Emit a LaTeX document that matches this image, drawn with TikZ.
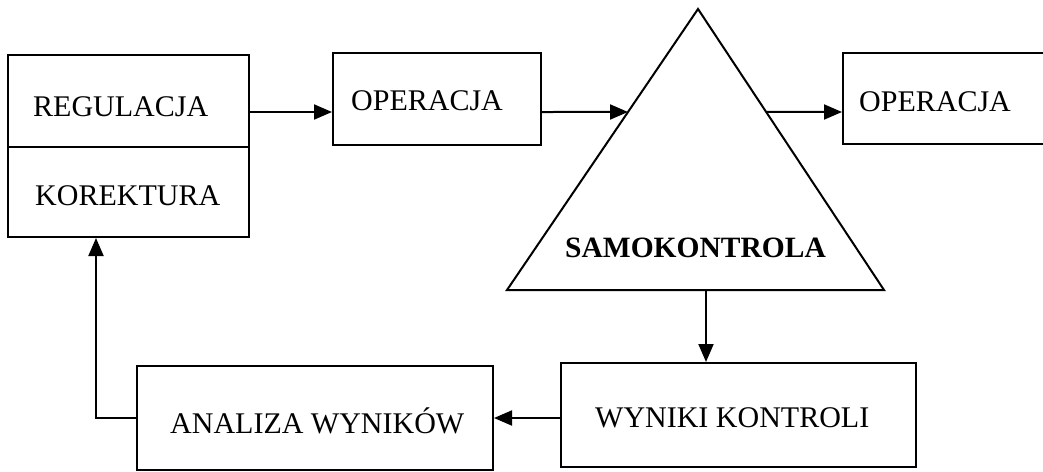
\documentclass[tikz,border=0pt]{standalone}
\usepackage{fontspec}
\setmainfont{Liberation Serif}
\usetikzlibrary{arrows.meta,calc}
\begin{document}
\begin{tikzpicture}[x=1pt,y=-1pt,
  frame/.style={draw, line width=2pt, inner sep=0pt, rectangle},
  lbl/.style={anchor=base west, inner sep=0pt, font=\fontsize{30}{35}\selectfont},
  link/.style={line width=2pt, -{Triangle[length=18pt,width=15pt]}},
  ]
\useasboundingbox (0,0) rectangle (1043,471);

% boxes
\node[frame, minimum width=241pt, minimum height=92pt] (reg) at (128.5,101) {};
\node[frame, minimum width=241pt, minimum height=90pt] (kor) at (128.5,192) {};
\node[frame, minimum width=208pt, minimum height=92pt] (op1) at (437,99) {};
\node[frame, minimum width=204pt, minimum height=91pt] (op2) at (945,98.5) {};
\node[frame, minimum width=355pt, minimum height=104pt] (wyn) at (738.5,415) {};
\node[frame, minimum width=356pt, minimum height=104pt] (ana) at (315,418) {};

% triangle
\coordinate (tA) at (698,9);
\coordinate (tL) at (507,290);
\coordinate (tR) at (884,290);
\draw[line width=2pt, line join=miter] (tA) -- (tL) -- (tR) -- cycle;
\coordinate (tin)  at ($(tA)!0.3665!(tL)$);
\coordinate (tout) at ($(tA)!0.3665!(tR)$);

% labels
\node[lbl] (t1) at (33,116) {REGULACJA};
\node[lbl] (t2) at (35,205) {KOREKTURA};
\node[lbl] (t3) at (351,110) {OPERACJA};
\node[lbl] (t4) at (859,111) {OPERACJA};
\node[lbl, font=\fontsize{29.5}{35}\selectfont\bfseries] (t5) at (565,257) {SAMOKONTROLA};
\node[lbl] (t6) at (595,427) {WYNIKI KONTROLI};
\node[lbl] (t7) at (170,433) {ANALIZA WYNIKÓW};

% connectors
\coordinate (row)  at (0,112);
\coordinate (back) at (0,418);
\coordinate (down) at (706,0);
\coordinate (up)   at (96,0);
\draw[link] (reg.east |- row) -- (op1.west |- row);
\draw[link] (op1.east |- row) -- (tin);
\draw[link] (tout) -- (op2.west |- row);
\draw[link] (down |- tL) -- (down |- wyn.north);
\draw[link] (wyn.west |- back) -- (ana.east |- back);
\draw[link] (ana.west |- back) -| (up |- kor.south);
\end{tikzpicture}
\end{document}
